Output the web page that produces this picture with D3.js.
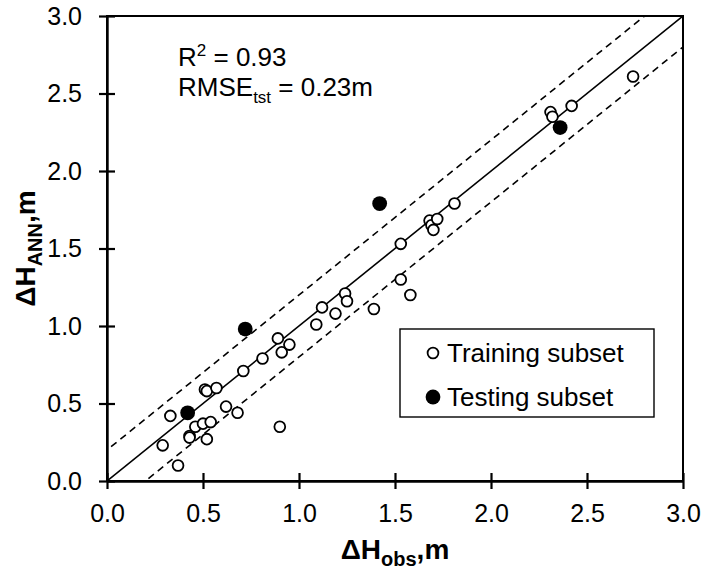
<!DOCTYPE html>
<html>
<head>
<meta charset="utf-8">
<script src="https://cdn.jsdelivr.net/npm/d3@7"></script>
<style>
  html, body { margin: 0; padding: 0; background: #fff; }
  svg { display: block; font-family: "Liberation Sans", Arial, sans-serif; }
</style>
</head>
<body>
<svg id="chart" width="705" height="573"></svg>
<script>
// Observed vs. ANN-predicted head difference (m)
const trainObs = [0.29, 0.33, 0.37, 0.43, 0.43, 0.46, 0.50, 0.51, 0.52, 0.52, 0.54, 0.57, 0.62, 0.68, 0.71, 0.81, 0.89, 0.90, 0.91, 0.95, 1.09, 1.12, 1.19, 1.24, 1.25, 1.39, 1.53, 1.53, 1.58, 1.68, 1.69, 1.70, 1.72, 1.81, 2.31, 2.32, 2.42, 2.74];
const trainAnn = [0.23, 0.42, 0.10, 0.29, 0.28, 0.35, 0.37, 0.59, 0.58, 0.27, 0.38, 0.60, 0.48, 0.44, 0.71, 0.79, 0.92, 0.35, 0.83, 0.88, 1.01, 1.12, 1.08, 1.21, 1.16, 1.11, 1.53, 1.30, 1.20, 1.68, 1.65, 1.62, 1.69, 1.79, 2.38, 2.35, 2.42, 2.61];
const testObs = [0.42, 0.72, 1.42, 2.36];
const testAnn = [0.44, 0.98, 1.79, 2.28];
const tickValues = [0, 0.5, 1.0, 1.5, 2.0, 2.5, 3.0];
const bandOffset = 0.2;   // ± band around the 1:1 line
const legendLabels = ["Training subset", "Testing subset"];

const svg = d3.select("#chart");
const W = 705, H = 573;
const margin = { left: 107, right: 22, top: 16, bottom: 92 };

const x = d3.scaleLinear().domain([0, 3]).range([margin.left, W - margin.right]);
const y = d3.scaleLinear().domain([0, 3]).range([H - margin.bottom, margin.top]);

svg.append("clipPath").attr("id", "plotClip")
  .append("rect")
  .attr("x", x(0)).attr("y", y(3))
  .attr("width", x(3) - x(0)).attr("height", y(0) - y(3));

const plot = svg.append("g").attr("clip-path", "url(#plotClip)");

// 1:1 line and ± band
const line = d3.line().x(d => x(d[0])).y(d => y(d[1]));
plot.append("path")
  .attr("d", line([[0, 0], [3, 3]]))
  .attr("stroke", "#000").attr("stroke-width", 1.6).attr("fill", "none");
[bandOffset, -bandOffset].forEach(off => {
  plot.append("path")
    .attr("d", line([[-1, -1 + off], [4, 4 + off]]))
    .attr("stroke", "#000").attr("stroke-width", 1.6)
    .attr("stroke-dasharray", "7,5").attr("fill", "none");
});

// points
const train = trainObs.map((v, i) => [v, trainAnn[i]]);
const test = testObs.map((v, i) => [v, testAnn[i]]);
svg.append("g").selectAll("circle").data(train).join("circle")
  .attr("cx", d => x(d[0])).attr("cy", d => y(d[1])).attr("r", 5.4)
  .attr("fill", "#fff").attr("stroke", "#000").attr("stroke-width", 1.8);
svg.append("g").selectAll("circle").data(test).join("circle")
  .attr("cx", d => x(d[0])).attr("cy", d => y(d[1])).attr("r", 7.4)
  .attr("fill", "#000");

// frame
svg.append("rect")
  .attr("x", x(0)).attr("y", y(3))
  .attr("width", x(3) - x(0)).attr("height", y(0) - y(3))
  .attr("fill", "none").attr("stroke", "#000").attr("stroke-width", 2);

// axes with crossing ticks
const fmt = d3.format(".1f");
const xAxis = svg.append("g").attr("transform", `translate(0,${y(0)})`)
  .call(d3.axisBottom(x).tickValues(tickValues).tickFormat(fmt).tickSizeInner(8).tickSizeOuter(0).tickPadding(15));
const yAxis = svg.append("g").attr("transform", `translate(${x(0)},0)`)
  .call(d3.axisLeft(y).tickValues(tickValues).tickFormat(fmt).tickSizeInner(8).tickSizeOuter(0).tickPadding(17));
[xAxis, yAxis].forEach(g => {
  g.select(".domain").attr("stroke", "#000").attr("stroke-width", 2.4);
  g.selectAll(".tick line").attr("stroke", "#000").attr("stroke-width", 2.2);
  g.selectAll(".tick text").attr("fill", "#000")
    .style("font-family", '"Liberation Sans", Arial, sans-serif').style("font-size", "25px");
});
xAxis.selectAll(".tick line").attr("y1", -8);
yAxis.selectAll(".tick line").attr("x1", 8);

// axis titles
const xt = svg.append("text")
  .attr("x", (x(0) + x(3)) / 2).attr("y", 559)
  .attr("text-anchor", "middle").attr("font-weight", "bold").attr("font-size", 28);
xt.append("tspan").text("ΔH");
xt.append("tspan").text("obs").attr("font-size", 20).attr("dy", 7);
xt.append("tspan").text(",m").attr("dy", -7);

const yt = svg.append("text")
  .attr("transform", `translate(35,${(y(0) + y(3)) / 2}) rotate(-90)`)
  .attr("text-anchor", "middle").attr("font-weight", "bold").attr("font-size", 28);
yt.append("tspan").text("ΔH");
yt.append("tspan").text("ANN").attr("font-size", 20).attr("dy", 7);
yt.append("tspan").text(",m").attr("dy", -7);

// statistics annotation
const r2 = svg.append("text").attr("x", 178).attr("y", 66).attr("font-size", 26);
r2.append("tspan").text("R");
r2.append("tspan").text("2").attr("font-size", 17).attr("dy", -10);
r2.append("tspan").text(" = 0.93").attr("dy", 10);
const rm = svg.append("text").attr("x", 178).attr("y", 96).attr("font-size", 26);
rm.append("tspan").text("RMSE");
rm.append("tspan").text("tst").attr("font-size", 17).attr("dy", 7);
rm.append("tspan").text(" = 0.23m").attr("dy", -7);

// legend
const lg = svg.append("g");
const lx = 400, ly = 329, lw = 254, lh = 88;
lg.append("rect").attr("x", lx).attr("y", ly).attr("width", lw).attr("height", lh)
  .attr("fill", "#fff").attr("stroke", "#000").attr("stroke-width", 1.4);
legendLabels.forEach((lab, i) => {
  const cy = ly + 24 + i * 44;
  if (i === 0) {
    lg.append("circle").attr("cx", lx + 33).attr("cy", cy).attr("r", 5.4)
      .attr("fill", "#fff").attr("stroke", "#000").attr("stroke-width", 1.8);
  } else {
    lg.append("circle").attr("cx", lx + 33).attr("cy", cy).attr("r", 7.4).attr("fill", "#000");
  }
  lg.append("text").attr("x", lx + 47).attr("y", cy + 9).attr("font-size", 26).text(lab);
});
</script>
</body>
</html>
